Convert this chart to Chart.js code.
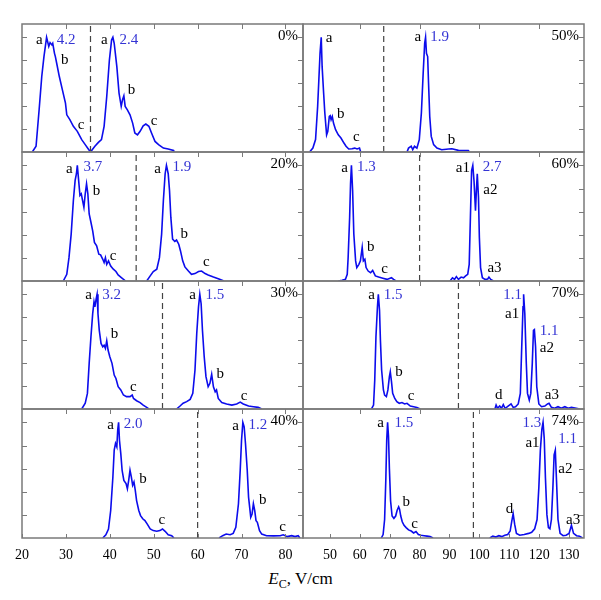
<!DOCTYPE html>
<html>
<head>
<meta charset="utf-8">
<title>E_C spectra</title>
<script src="https://cdn.jsdelivr.net/npm/chart.js@4"></script>
<style>
  body { margin: 0; background: #fff; width: 601px; height: 600px; position: relative; overflow: hidden; }
  canvas { position: absolute; }
  #title { position: absolute; left: 0; width: 601px; top: 569px; text-align: center;
           font: 17px "Liberation Serif", "Times New Roman", serif; color: #000; }
  #title sub { font-size: 12px; }
</style>
</head>
<body>
<div id="title"><i>E</i><sub>C</sub>, V/cm</div>
<script>
// 0%
const p0_x1 = [22.35, 23.2, 23.9, 24.5, 25.0, 25.6, 26.1, 26.4, 26.8, 27.0, 27.4, 27.6, 27.9, 28.5, 29.2, 29.9, 30.2, 30.9, 31.7, 32.6, 33.6, 34.4, 35.1, 35.6];
const p0_y1 = [0, 0.25, 1.84, 3.29, 4.16, 5.0, 4.6, 4.77, 4.67, 4.74, 4.3, 4.16, 3.87, 3.29, 2.71, 2.13, 1.62, 1.41, 1.12, 0.9, 0.54, 0.32, 0.13, 0];
const p0_x2 = [35.6, 36.6, 37.4, 38.1, 38.7, 39.3, 39.9, 40.4, 40.7, 41.0, 41.6, 42.1, 42.6, 42.9, 43.2, 43.5, 44.0, 44.6, 45.2, 45.7, 46.3, 46.9, 47.6, 48.2, 48.9, 49.5, 50.3, 51.1, 52.2, 53.3, 54.5, 54.6];
const p0_y2 = [0, 0.25, 0.42, 0.54, 1.12, 2.42, 4.0, 4.88, 5.0, 4.74, 3.72, 2.57, 1.99, 2.28, 2.45, 1.99, 1.84, 1.62, 1.26, 0.83, 0.75, 0.9, 1.14, 1.22, 1.12, 0.83, 0.46, 0.32, 0.17, 0.13, 0.07, 0];

// 50%
const p50_x1 = [43.2, 44.3, 45.2, 45.9, 46.3, 46.7, 47.1, 47.4, 47.9, 48.3, 48.9, 49.3, 49.8, 50.1, 50.4, 50.8, 51.2, 51.9, 52.8, 53.7, 54.7, 55.4, 56.3, 57.4, 58.3, 59.1, 59.9, 60.3];
const p50_y1 = [0, 0.17, 0.54, 1.99, 3.14, 4.3, 5.0, 3.72, 2.57, 1.7, 0.75, 0.9, 1.55, 1.58, 1.41, 1.55, 1.26, 0.97, 0.75, 0.61, 0.39, 0.25, 0.13, 0.14, 0.17, 0.13, 0.17, 0];
const p50_x2 = [75.8, 76.3, 77.2, 77.7, 78.3, 79.1, 79.9, 80.6, 81.2, 81.7, 82.0, 82.3, 82.7, 83.0, 83.4, 83.9, 84.7, 85.8, 87.4, 89.7, 90.8, 93.0, 96.3, 96.7];
const p50_y2 = [0, 0.17, 0.25, 0.1, 0.25, 0.17, 0.54, 1.7, 3.43, 4.74, 5.0, 4.3, 4.16, 3.0, 1.55, 0.68, 0.32, 0.17, 0.1, 0.13, 0.14, 0.07, 0.06, 0];

// 20%
const p20_x1 = [29.4, 30.2, 30.7, 31.2, 31.7, 32.1, 32.4, 32.6, 32.9, 33.2, 33.5, 33.8, 34.1, 34.4, 34.7, 35.0, 35.3, 35.7, 36.1, 36.5, 37.0, 37.5, 37.9, 38.4, 38.7, 39.0, 39.3, 39.7, 40.2, 40.8, 41.4, 41.9, 42.7, 43.6];
const p20_y1 = [0, 0.29, 1.01, 2.03, 3.48, 4.35, 4.64, 5.0, 4.35, 3.7, 3.77, 3.48, 3.19, 3.77, 4.2, 3.77, 2.9, 2.54, 2.17, 1.67, 1.52, 1.16, 1.13, 0.94, 0.8, 1.01, 0.72, 0.87, 0.65, 0.51, 0.41, 0.26, 0.14, 0];
const p20_x2 = [48.4, 49.2, 49.9, 50.7, 51.3, 51.8, 52.2, 52.6, 52.9, 53.3, 53.6, 53.9, 54.3, 54.8, 55.2, 55.7, 56.1, 56.6, 57.1, 57.9, 58.6, 59.4, 60.2, 60.9, 61.7, 62.4, 63.6, 64.7, 66.0];
const p20_y2 = [0, 0.22, 0.41, 0.51, 1.01, 2.03, 3.48, 4.64, 5.0, 4.64, 3.91, 2.75, 1.81, 1.71, 1.77, 1.59, 1.3, 0.87, 0.61, 0.43, 0.29, 0.32, 0.41, 0.43, 0.32, 0.26, 0.17, 0.1, 0];

// 60%
const p60_x1 = [52.8, 54.1, 55.2, 55.8, 56.1, 56.6, 56.9, 57.2, 57.6, 58.0, 58.6, 59.0, 59.7, 60.2, 60.8, 61.2, 61.7, 62.1, 62.8, 63.6, 64.3, 65.2, 66.3, 67.7, 69.1, 70.6, 71.3, 72.1];
const p60_y1 = [0, 0.03, 0.07, 0.29, 1.01, 2.75, 4.2, 5.0, 3.91, 2.03, 0.87, 0.58, 0.72, 0.87, 1.45, 0.87, 0.94, 0.58, 0.43, 0.36, 0.46, 0.22, 0.17, 0.12, 0.07, 0.14, 0.07, 0];
const p60_x2 = [90.2, 91.0, 91.7, 92.3, 93.0, 93.9, 94.7, 95.4, 96.1, 96.6, 97.0, 97.4, 97.8, 98.2, 98.7, 99.0, 99.3, 99.7, 100.0, 100.4, 101.0, 101.9, 102.8, 103.2, 103.8, 104.7];
const p60_y2 = [0, 0.14, 0.07, 0.19, 0.07, 0.17, 0.14, 0.22, 0.29, 0.72, 2.75, 4.78, 5.0, 4.35, 3.04, 3.91, 4.64, 3.62, 1.88, 0.58, 0.14, 0.07, 0.09, 0.17, 0.07, 0];

// 30%
const p30_x1 = [33.6, 34.4, 34.9, 35.3, 35.7, 36.1, 36.4, 36.6, 36.9, 37.1, 37.3, 37.6, 38.0, 38.4, 38.7, 39.0, 39.3, 39.6, 40.0, 40.5, 41.0, 41.4, 41.9, 42.5, 43.1, 43.8, 44.6, 45.1, 45.4, 46.1, 46.9, 47.6, 48.4, 48.9];
const p30_y1 = [0, 0.25, 0.68, 1.99, 3.14, 4.16, 4.67, 4.45, 4.81, 5.0, 4.16, 3.43, 2.86, 2.71, 2.78, 2.64, 2.97, 2.57, 2.28, 1.99, 1.48, 1.33, 0.97, 0.83, 0.61, 0.54, 0.54, 0.61, 0.46, 0.36, 0.28, 0.17, 0.07, 0];
const p30_x2 = [55.2, 56.0, 56.7, 57.5, 58.3, 58.9, 59.4, 59.8, 60.2, 60.5, 60.8, 61.1, 61.5, 61.9, 62.4, 62.8, 63.2, 63.6, 64.0, 64.3, 64.7, 65.5, 66.6, 67.8, 68.9, 69.7, 70.4, 71.6, 72.7, 73.8, 74.6];
const p30_y2 = [0, 0.13, 0.25, 0.32, 0.42, 0.68, 1.7, 3.29, 4.45, 5.0, 4.59, 3.43, 2.28, 1.41, 0.97, 1.12, 1.51, 0.97, 0.75, 0.83, 0.46, 0.28, 0.22, 0.17, 0.22, 0.3, 0.22, 0.13, 0.1, 0.07, 0];

// 70%
const p70_x1 = [63.9, 64.6, 65.0, 65.4, 65.9, 66.2, 66.6, 66.9, 67.3, 67.9, 68.3, 68.9, 69.4, 69.9, 70.2, 70.6, 71.0, 71.7, 72.4, 73.2, 74.1, 75.0, 75.8, 76.9, 78.0, 79.1, 80.2];
const p70_y1 = [0, 0.17, 1.26, 3.14, 4.45, 5.0, 4.3, 3.0, 1.7, 0.83, 0.61, 0.54, 0.83, 1.41, 1.62, 1.19, 0.68, 0.46, 0.32, 0.25, 0.28, 0.22, 0.25, 0.13, 0.1, 0.07, 0];
const p70_x2 = [105.2, 105.6, 106.1, 106.8, 107.4, 108.0, 108.6, 109.4, 110.6, 111.3, 112.1, 113.0, 113.7, 114.1, 114.6, 114.8, 115.2, 115.7, 116.1, 116.7, 117.2, 117.7, 118.1, 118.4, 118.8, 119.2, 119.9, 120.8, 121.9, 122.8, 123.3, 124.1, 125.2, 126.3, 127.4, 128.6, 129.7, 130.8, 132.4, 133.6];
const p70_y2 = [0, 0.17, 0.03, 0.13, 0.03, 0.19, 0.03, 0.1, 0.22, 0.07, 0.1, 0.22, 0.68, 2.42, 4.45, 5.0, 4.16, 1.99, 0.68, 0.39, 0.68, 1.99, 3.43, 3.46, 2.71, 0.97, 0.22, 0.1, 0.13, 0.22, 0.25, 0.07, 0.03, 0.1, 0.03, 0.1, 0.03, 0.07, 0.03, 0];

// 40%
const p40_x1 = [38.4, 39.1, 39.7, 40.2, 40.7, 41.0, 41.3, 41.6, 41.8, 42.0, 42.2, 42.5, 42.8, 43.2, 43.7, 44.0, 44.3, 44.6, 44.9, 45.2, 45.5, 45.8, 46.1, 46.6, 47.0, 47.5, 48.0, 48.5, 49.2, 49.9, 50.7, 51.4, 52.0, 52.6, 53.3, 54.1, 54.6];
const p40_y1 = [0, 0.14, 0.39, 1.19, 2.64, 3.8, 4.09, 3.94, 4.67, 5.0, 4.23, 3.65, 2.93, 2.49, 2.35, 2.13, 2.49, 2.93, 2.64, 2.28, 2.42, 2.06, 1.62, 1.19, 0.97, 0.83, 0.75, 0.61, 0.39, 0.32, 0.29, 0.32, 0.39, 0.29, 0.14, 0.1, 0];
const p40_x2 = [64.9, 65.7, 66.5, 67.4, 68.1, 68.7, 69.3, 69.7, 70.0, 70.3, 70.6, 70.9, 71.3, 71.6, 72.1, 72.4, 72.7, 73.0, 73.3, 73.6, 74.1, 74.6, 75.7, 77.3, 78.8, 79.5, 80.4, 81.4, 82.2, 82.9, 83.3];
const p40_y2 = [0, 0.1, 0.17, 0.14, 0.2, 0.46, 1.48, 2.93, 4.23, 5.0, 4.81, 4.09, 2.93, 1.77, 0.9, 1.04, 1.48, 1.19, 0.75, 0.68, 0.32, 0.17, 0.1, 0.09, 0.1, 0.14, 0.06, 0.1, 0.06, 0.1, 0];

// 74%
const p74_x1 = [67.2, 67.8, 68.3, 68.7, 69.0, 69.3, 69.6, 69.9, 70.3, 70.8, 71.4, 72.0, 72.5, 73.0, 73.3, 73.7, 74.2, 74.8, 75.5, 76.3, 77.2, 78.0, 78.8, 79.6, 80.5, 81.5, 82.5, 83.5, 84.5];
const p74_y1 = [0, 0.15, 0.8, 2.5, 4.2, 5.0, 4.4, 3.0, 1.6, 0.95, 0.85, 0.95, 1.2, 1.35, 1.25, 0.95, 0.7, 0.55, 0.45, 0.35, 0.3, 0.22, 0.28, 0.15, 0.12, 0.1, 0.08, 0.06, 0];
const p74_x2 = [103.5, 104.5, 105.5, 106.5, 107.5, 108.5, 109.5, 110.3, 110.8, 111.3, 111.8, 112.4, 113.5, 115, 116.5, 117.5, 118.5, 119.3, 119.9, 120.4, 120.9, 121.3, 121.7, 122.1, 122.6, 123.1, 123.6, 124.1, 124.6, 125.0, 125.4, 125.8, 126.3, 127, 128, 129, 130, 130.8, 131.5, 132.5, 133.5, 134.5];
const p74_y2 = [0, 0.08, 0.04, 0.1, 0.06, 0.12, 0.15, 0.3, 0.7, 1.05, 0.6, 0.2, 0.12, 0.15, 0.2, 0.25, 0.4, 0.8, 2.2, 3.8, 4.7, 5.0, 4.3, 2.6, 1.0, 0.45, 0.4, 0.8, 2.2, 3.6, 3.8, 2.5, 0.8, 0.2, 0.1, 0.12, 0.2, 0.55, 0.2, 0.1, 0.08, 0];

// axes
const xMin = [20, 41], xMax = [84, 135];
const yMax = 5.58;
const yTicks = [1, 2, 3, 4, 5];
const xTicksTop = [[30, 40, 50, 60, 70, 80], [60, 80, 100, 120]];
const xTickLabels = [[20, 30, 40, 50, 60, 70, 80], [50, 60, 70, 80, 90, 100, 110, 120, 130]];

// panels: row, col, curves, divider, percent, labels [text, x, y, blue]
const panels = [
  { row: 0, col: 0, x1: p0_x1, y1: p0_y1, x2: p0_x2, y2: p0_y2, dash: 35.6, pct: '0%',
    labels: [['a', 23.2, 4.88], ['4.2', 27.9, 4.9, 1], ['b', 28.9, 4.0], ['c', 32.7, 1.16],
             ['a', 38.0, 4.9], ['2.4', 42.2, 4.9, 1], ['b', 44.1, 2.71], ['c', 49.3, 1.37]] },
  { row: 0, col: 1, x1: p50_x1, y1: p50_y1, x2: p50_x2, y2: p50_y2, dash: 68.0, pct: '50%',
    labels: [['a', 48.6, 4.98], ['b', 52.4, 1.65], ['c', 57.7, 0.64],
             ['a', 78.3, 5.0], ['1.9', 83.6, 5.0, 1], ['b', 89.4, 0.53]] },
  { row: 1, col: 0, x1: p20_x1, y1: p20_y1, x2: p20_x2, y2: p20_y2, dash: 46.0, pct: '20%',
    labels: [['a', 30.0, 4.86], ['3.7', 34.0, 4.93, 1], ['b', 36.1, 3.87], ['c', 40.0, 1.09],
             ['a', 50.1, 4.86], ['1.9', 54.3, 4.93, 1], ['b', 56.1, 2.03], ['c', 61.2, 0.84]] },
  { row: 1, col: 1, x1: p60_x1, y1: p60_y1, x2: p60_x2, y2: p60_y2, dash: 80.0, pct: '60%',
    labels: [['a', 53.8, 4.9], ['1.3', 59.1, 4.93, 1], ['b', 62.4, 1.48], ['c', 67.2, 0.51],
             ['a1', 92.1, 4.9], ['2.7', 101.1, 4.93, 1], ['a2', 101.3, 3.94], ['a3', 102.7, 0.55]] },
  { row: 2, col: 0, x1: p30_x1, y1: p30_y1, x2: p30_x2, y2: p30_y2, dash: 52.0, pct: '30%',
    labels: [['a', 34.4, 4.96], ['3.2', 38.3, 4.96, 1], ['b', 40.2, 3.26], ['c', 44.6, 0.97],
             ['a', 58.1, 4.96], ['1.5', 61.8, 4.96, 1], ['b', 64.3, 1.51], ['c', 69.8, 0.57]] },
  { row: 2, col: 1, x1: p70_x1, y1: p70_y1, x2: p70_x2, y2: p70_y2, dash: 93.0, pct: '70%',
    labels: [['a', 62.8, 4.96], ['1.5', 68.0, 4.96, 1], ['b', 71.9, 1.62], ['c', 76.0, 0.57],
             ['d', 105.2, 0.61], ['1.1', 108.0, 4.96, 1], ['a1', 108.6, 4.13],
             ['1.1', 120.2, 3.39, 1], ['a2', 120.2, 2.64], ['a3', 121.9, 0.61]] },
  { row: 3, col: 0, x1: p40_x1, y1: p40_y1, x2: p40_x2, y2: p40_y2, dash: 60.0, pct: '40%',
    labels: [['a', 39.4, 4.88], ['2.0', 43.2, 4.93, 1], ['b', 46.7, 2.57], ['c', 51.1, 0.78],
             ['a', 67.9, 4.84], ['1.2', 71.6, 4.9, 1], ['b', 74.0, 1.62], ['c', 78.6, 0.49]] },
  { row: 3, col: 1, x1: p74_x1, y1: p74_y1, x2: p74_x2, y2: p74_y2, dash: 98.0, pct: '74%',
    labels: [['a', 65.8, 4.96], ['1.5', 71.6, 4.96, 1], ['b', 74.3, 1.55], ['c', 77.2, 0.6],
             ['d', 108.8, 1.25], ['1.3', 114.4, 4.96, 1], ['a1', 115.4, 4.1],
             ['1.1', 126.4, 4.3, 1], ['a2', 126.4, 3.0], ['a3', 129.0, 0.78]] }
];

const LINE = '#0c0cec', NUM = '#3434d4', FRAME = '#7a7a7a';
const colL = [22, 303], colW = 281;
const rowT = [24, 152, 281, 409], rowH = [128, 129, 128, 129];
const M = 14;

function pts(xs, ys) {
  const n = Math.min(xs.length, ys.length);
  const out = [];
  for (let i = 0; i < n; i++) out.push({ x: xs[i], y: ys[i] });
  return out;
}

function makeDeco(p) {
  return {
    id: 'deco',
    afterDatasetsDraw(chart) {
      const ctx = chart.ctx, a = chart.chartArea;
      const sx = chart.scales.x, sy = chart.scales.y;
      ctx.save();
      ctx.strokeStyle = FRAME;
      ctx.lineWidth = 1;
      ctx.beginPath();
      for (const t of xTicksTop[p.col]) {
        const px = Math.round(sx.getPixelForValue(t)) + 0.5;
        ctx.moveTo(px, a.top); ctx.lineTo(px, a.top + 5);
      }
      if (p.row === 3) {
        for (const t of xTickLabels[p.col]) {
          const px = Math.round(sx.getPixelForValue(t)) + 0.5;
          ctx.moveTo(px, a.bottom); ctx.lineTo(px, a.bottom - 4);
        }
      }
      for (const v of yTicks) {
        const py = Math.round(sy.getPixelForValue(v)) + 0.5;
        if (p.col === 0) { ctx.moveTo(a.left, py); ctx.lineTo(a.left + 5, py); }
        ctx.moveTo(a.right, py); ctx.lineTo(a.right - 5, py);
      }
      ctx.stroke();
      ctx.lineWidth = 1.5;
      ctx.strokeRect(a.left, a.top, a.right - a.left, a.bottom - a.top);

      ctx.font = '15px "Liberation Serif", "Times New Roman", serif';
      ctx.textBaseline = 'middle';
      ctx.textAlign = 'left';
      for (const l of p.labels) {
        ctx.fillStyle = l[3] ? NUM : '#000';
        ctx.fillText(l[0], sx.getPixelForValue(l[1]), sy.getPixelForValue(l[2]));
      }
      ctx.fillStyle = '#000';
      ctx.textAlign = 'right';
      ctx.fillText(p.pct, a.right - 5, sy.getPixelForValue(5.05));

      if (p.row === 3) {
        ctx.font = '14px "Liberation Serif", "Times New Roman", serif';
        ctx.textAlign = 'center';
        for (const t of xTickLabels[p.col]) {
          ctx.fillText(String(t), sx.getPixelForValue(t), a.bottom + 17);
        }
      }
      ctx.restore();
    }
  };
}

for (const p of panels) {
  const extra = p.row === 3 ? 30 : 0;
  const cv = document.createElement('canvas');
  const w = colW + 2 * M, h = rowH[p.row] + 2 * M + extra;
  cv.width = w; cv.height = h;
  cv.style.width = w + 'px'; cv.style.height = h + 'px';
  cv.style.left = (colL[p.col] - M) + 'px';
  cv.style.top = (rowT[p.row] - M) + 'px';
  document.body.appendChild(cv);

  new Chart(cv, {
    type: 'line',
    data: {
      datasets: [
        { data: [{ x: p.dash, y: 0 }, { x: p.dash, y: yMax }], borderColor: '#444', borderWidth: 1.2,
          borderDash: [6, 4], pointRadius: 0 },
        { data: pts(p.x1, p.y1), borderColor: LINE, borderWidth: 1.6, pointRadius: 0, tension: 0 },
        { data: pts(p.x2, p.y2), borderColor: LINE, borderWidth: 1.6, pointRadius: 0, tension: 0 }
      ]
    },
    options: {
      responsive: false,
      devicePixelRatio: 1,
      animation: false,
      layout: { padding: { left: M, right: M, top: M, bottom: M + extra } },
      plugins: { legend: { display: false }, tooltip: { enabled: false } },
      scales: {
        x: { type: 'linear', min: xMin[p.col], max: xMax[p.col], display: false },
        y: { type: 'linear', min: 0, max: yMax, display: false }
      }
    },
    plugins: [makeDeco(p)]
  });
}
</script>
</body>
</html>
